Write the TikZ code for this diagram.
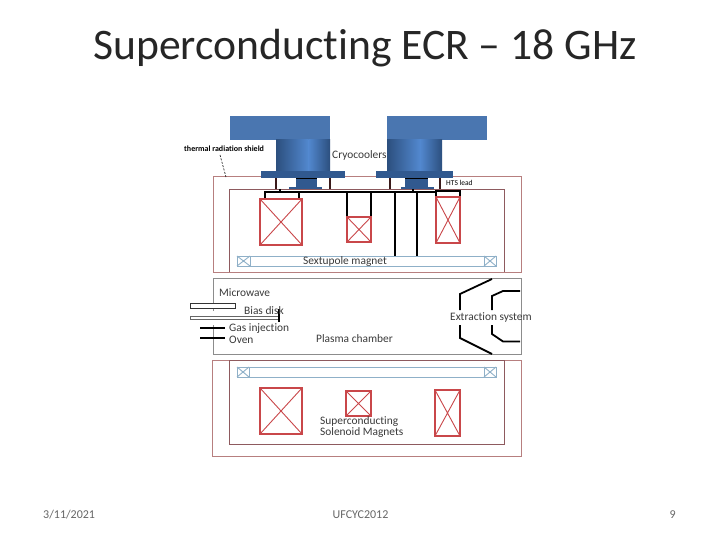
\documentclass[tikz,border=0pt]{standalone}
\usepackage{fontspec}
\setmainfont[Ligatures=NoCommon]{Carlito}
\definecolor{cryo}{HTML}{4A76B0}
\definecolor{cdark}{HTML}{2C4F7E}
\definecolor{clight}{HTML}{5288CF}
\definecolor{flange}{HTML}{31598F}
\definecolor{redout}{HTML}{B77F7F}
\definecolor{redin}{HTML}{8E5A5E}
\definecolor{coil}{HTML}{C9474A}
\definecolor{sext}{HTML}{8FB0C8}
\definecolor{chamber}{HTML}{8C8C8C}
\definecolor{foot}{HTML}{666666}
\definecolor{txt}{HTML}{3A3A3A}
\definecolor{post}{HTML}{3A1A1A}
\tikzset{
  outerwall/.style={draw=redout,line width=1pt},
  innerwall/.style={draw=redin,line width=.9pt},
  coilbox/.style={draw=coil,line width=1.1pt},
  sextbox/.style={draw=sext,line width=1pt},
  wire/.style={draw=black,line width=1.1pt},
  thick wire/.style={draw=black,line width=1.8pt},
  chamberline/.style={draw=chamber,line width=1pt},
  lab/.style={inner sep=0pt,text=txt,font=\fontsize{11.4}{12}\selectfont},
  footer/.style={inner sep=0pt,text=foot,font=\fontsize{12}{14}\selectfont},
}
\newcommand{\xbox}[5]{%
  \draw[#5] (#1,#2) rectangle (#3,#4);
  \draw[#5,line width=.9pt] (#1,#2) -- (#3,#4) (#1,#4) -- (#3,#2);}
\newcommand{\cooler}[9]{% boxL boxR cylL cylR flL flR blockL blockR baseL
  \fill[cryo] (#1,116) rectangle (#2,140);
  \fill[left color=cdark,right color=clight] (#3,140) rectangle ({#3+(#4-#3)*0.6},172);
  \fill[left color=clight,right color=cdark] ({#3+(#4-#3)*0.6},140) rectangle (#4,172);
  \fill[flange] (#5,171) rectangle (#6,178);
  \fill[flange] (#7,178) rectangle (#8,189);
  \draw[black,line width=.7pt] (#7,178) -- (#8,178);
  \fill[flange] (#9,187) rectangle ({#9+33},189);}
\begin{document}
\begin{tikzpicture}[x=1pt,y=-1pt]
\useasboundingbox (0,0) rectangle (720,540);
\fill[white] (0,0) rectangle (720,540);
\node[inner sep=0pt,text=black!85,font=\fontsize{43.6}{48}\selectfont] (title) at (365,48) {Superconducting ECR – 18 GHz};
% top section walls
\draw[outerwall] (213,177) rectangle (521,272);
\draw[innerwall] (229,272) -- (229,189) -- (504,189) -- (504,272);
% coolers
\cooler{230}{330}{276}{330}{261}{345}{296}{317}{289}
\cooler{387}{487}{387}{442}{376}{453}{405}{428}{401}
\foreach \x in {276,330,390,440}
  \draw[draw=post,line width=1.5pt] (\x,178) -- (\x,189);
% leads
\draw[wire] (299,192) -- (437,192);
\draw[wire] (265,199) -- (265,192) -- (299,192) -- (299,199);
\draw[wire] (280,189) -- (280,192) (413,189) -- (413,192);
\draw[wire] (347,192) -- (347,217);
\draw[wire] (371,192) -- (371,217);
\draw[wire] (395,192) -- (395,256);
\draw[wire] (417,192) -- (417,256);
\draw[wire] (436,197) -- (436,191) -- (460,191) -- (460,197);
% top coils
\xbox{260}{199}{302}{245}{coilbox}
\xbox{347}{217}{371}{242}{coilbox}
\xbox{436}{197}{460}{243}{coilbox}
% sextupole top
\draw[sextbox] (250,256) rectangle (484,266);
\xbox{237}{256}{250}{266}{sextbox}
\xbox{484}{256}{496}{266}{sextbox}
% chamber
\draw[chamberline] (213,311) -- (213,278) -- (521,278) -- (521,354) -- (213,354) -- (213,325);
% left tubes
\draw[draw=black!80,fill=white,line width=.7pt] (190,303) rectangle (235,308);
\draw[draw=black!60,fill=white,line width=.6pt] (190,316) -- (279,316) (190,316) -- (190,319) (190,319) -- (279,319);
\draw[draw=black,line width=1.1pt] (279,309) -- (279,322);
\draw[wire] (200,328) -- (225,328);
\draw[thick wire] (200,338) -- (225,338);
% extraction
\draw[thick wire] (492,279) -- (460,294) -- (460,310);
\draw[thick wire] (460,325) -- (460,338) -- (492,354);
\draw[thick wire] (520,291) -- (503,291) -- (492,296) -- (492,310);
\draw[thick wire] (492,325) -- (492,334) -- (503,341.5) -- (520,341.5);
% bottom section
\draw[outerwall] (212,360) rectangle (521,456);
\draw[innerwall] (229,360) rectangle (504,444);
\draw[sextbox] (249,367) rectangle (484,377);
\xbox{237}{367}{249}{377}{sextbox}
\xbox{484}{367}{496}{377}{sextbox}
\xbox{260}{388}{302}{434}{coilbox}
\xbox{346}{391}{371}{416}{coilbox}
\xbox{435}{390}{460}{436}{coilbox}
% labels
\node[inner sep=0pt,anchor=west,font=\bfseries\fontsize{8}{9}\selectfont] (shield) at (184,149) {thermal radiation shield};
\coordinate (shieldend) at (226,177);
\coordinate (shieldstart) at (220,155);
\draw[draw=black,line width=.6pt,dashed,dash pattern=on 2pt off 1.5pt] (shieldstart) -- (shieldend);
\node[lab,anchor=west,font=\fontsize{11.4}{12}\selectfont] (cryo) at (332,155) {Cryocoolers};
\node[inner sep=0pt,anchor=west,font=\fontsize{7.5}{8}\selectfont] (hts) at (446,182.5) {HTS lead};
\node[lab] (sm) at (345,261.5) {Sextupole magnet};
\node[lab,anchor=west] (mw) at (219,292.5) {Microwave};
\node[lab,anchor=west] (bd) at (244,311) {Bias disk};
\node[lab,anchor=west] (gi) at (229,329) {Gas injection};
\node[lab,anchor=west] (ov) at (229,339.5) {Oven};
\node[lab,anchor=west] (pc) at (316,338.5) {Plasma chamber};
\node[lab,anchor=west] (es) at (450,317.5) {Extraction system};
\node[lab,anchor=west] (sc1) at (320,421.5) {Superconducting};
\node[lab,anchor=west] (sc2) at (320,432.5) {Solenoid Magnets};
% footer
\node[footer,anchor=west] (date) at (43,515) {3/11/2021};
\node[footer] (conf) at (360.5,515) {UFCYC2012};
\node[footer,anchor=east] (page) at (676,515) {9};
\end{tikzpicture}
\end{document}
